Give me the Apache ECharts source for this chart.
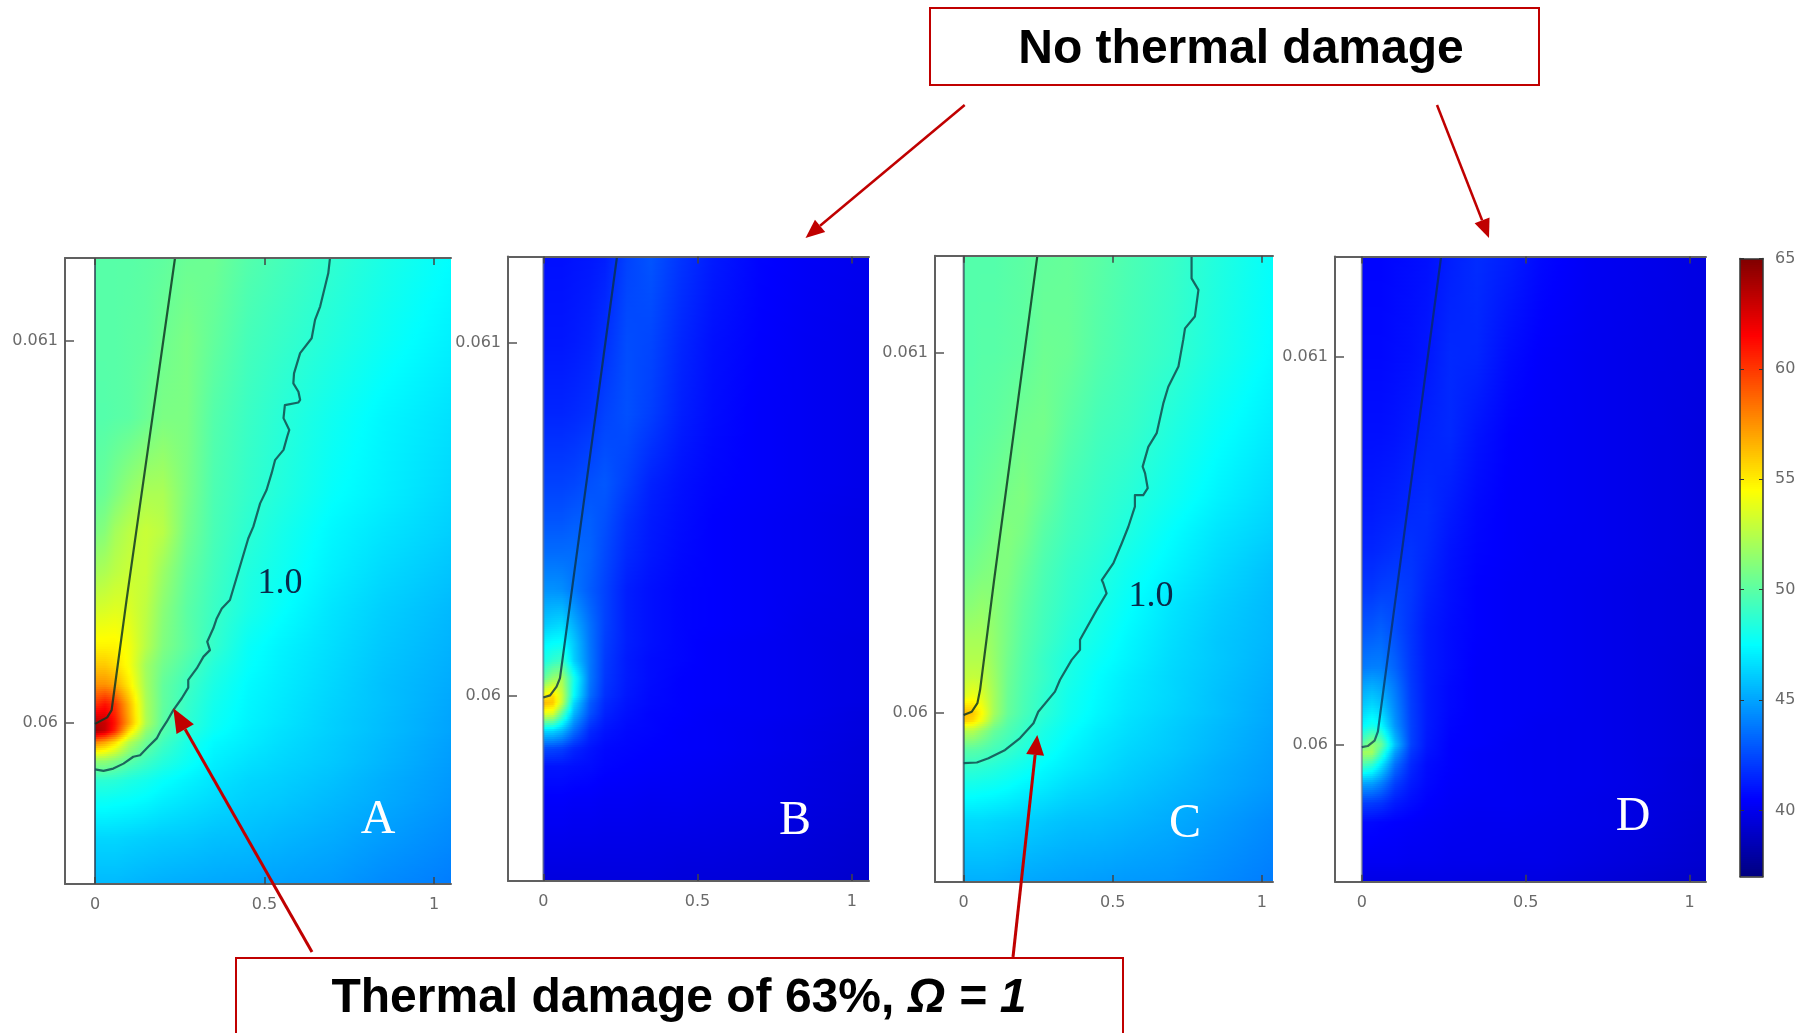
<!DOCTYPE html>
<html>
<head>
<meta charset="utf-8">
<style>html,body{margin:0;padding:0;background:#fff}#c{width:1807px;height:1033px}</style>
<script src="https://cdn.jsdelivr.net/npm/echarts@6/dist/echarts.min.js"></script>
</head>
<body>
<div id="c"></div>
<script>
// ---------- grid nodes (shared interior positions) ----------
const xNodesCore = [0, .03, .06, .1, .15, .2, .27, .35, .45, .55, .7, .85];
const yNodesCore = [.0597, .0598, .05985, .0599, .05995, .05998, .06, .06005, .0601, .06015, .0602, .0603, .0604, .0605, .0606, .0608, .061];

// ---------- temperature fields, bottom row first ----------
const tempA = [
[45.6,45.6,45.6,45.5,45.4,45.3,45.2,45.1,45.0,44.9,44.7,44.3,43.9],
[46.4,46.4,46.4,46.3,46.2,46.1,46.0,45.8,45.7,45.5,45.2,44.8,44.3],
[47.8,47.8,47.7,47.6,47.4,47.1,46.8,46.5,46.2,46.0,45.6,45.2,44.6],
[48.7,48.7,48.6,48.3,48.0,47.6,47.2,46.8,46.4,46.2,45.8,45.3,44.7],
[51.5,51.4,50.9,50.0,49.2,48.5,47.8,47.1,46.7,46.4,46.0,45.5,44.8],
[58,57,55.5,52.5,50.5,49.3,48.2,47.4,47.0,46.6,46.1,45.6,44.9],
[64,63,60.5,55.5,51.5,49.8,48.6,47.7,47.1,46.7,46.2,45.7,45.0],
[63.5,63,61,57,52.3,50,48.8,47.8,47.2,46.8,46.2,45.7,45.0],
[60,61,60,56.5,52.2,50.2,49,48,47.3,46.9,46.3,45.8,45.1],
[57.5,57.5,57,55,52,50.2,49.2,48.2,47.4,47,46.4,45.8,45.2],
[56,56,55.5,54.3,51.9,50.6,49.6,48.5,47.6,47.1,46.5,45.9,45.3],
[54.8,54.8,54.8,54.2,52.5,51,50,48.9,47.7,47.2,46.6,46,45.4],
[53.3,53.4,53.6,53.5,52.7,51.3,50,49.1,48.2,47.6,46.8,46.2,45.6],
[52,52.2,52.6,53,53,51.8,50.3,49.3,48.4,47.9,47.1,46.5,45.9],
[50.9,51.2,52,52.6,53,52.6,50.7,49.5,48.7,48.1,47.3,46.8,46.2],
[50.2,50.4,50.9,51.6,52.2,52.2,50.9,49.6,48.9,48.4,47.6,47.1,46.4],
[49.8,49.8,49.9,50,50.4,50.9,50.9,49.8,49.1,48.6,47.9,47.3,46.7],
[49.9,49.9,49.9,50,50.1,50.5,50.9,50.2,49.4,49,48.4,47.8,47.1],
[49.9,49.9,49.9,49.9,50,50.1,50.4,50.5,49.8,49.4,48.8,48.2,47.5]
];
const tempB = [
[39.6,39.6,39.6,39.6,39.6,39.6,39.6,39.6,39.5,39.5,39.4,39.3,39.1],
[40.4,40.4,40.4,40.3,40.3,40.2,40.2,40.1,40.1,40,39.9,39.7,39.4],
[41,41,41,40.9,40.8,40.6,40.5,40.4,40.3,40.2,40,39.8,39.5],
[42.5,42.4,42.2,41.5,41,40.7,40.6,40.5,40.4,40.3,40.1,39.9,39.5],
[46.5,46.3,45.5,43.5,41.6,41,40.7,40.6,40.4,40.3,40.1,39.9,39.6],
[54,53.5,50,45.5,42.7,41.4,40.9,40.6,40.5,40.3,40.2,40,39.6],
[56.5,56,52.8,46.5,43,41.6,41,40.7,40.5,40.4,40.2,40,39.7],
[54.5,55.5,53,47.5,43.5,41.8,41.1,40.7,40.5,40.4,40.2,40,39.7],
[50,51.5,52,48,43.8,42,41.2,40.8,40.5,40.4,40.2,40,39.7],
[48,48.8,49.2,46.2,43.8,42.1,41.2,40.8,40.6,40.4,40.2,40,39.7],
[47.2,47.5,47.6,46,43.7,42.2,41.3,40.9,40.6,40.4,40.2,40,39.7],
[46,46.3,46.5,45.3,43.6,42.3,41.3,40.9,40.6,40.5,40.3,40,39.8],
[44.5,44.5,44.4,43.8,43,42.3,41.3,40.9,40.6,40.5,40.3,40.1,39.8],
[43.5,43.5,43.5,43.5,43.2,42.5,41.6,41.1,40.7,40.5,40.3,40.1,39.8],
[42.8,42.8,42.8,43,43.1,42.7,41.8,41.2,40.8,40.5,40.3,40.1,39.8],
[42.3,42.3,42.3,42.4,42.7,42.9,42.2,41.4,40.9,40.6,40.4,40.2,39.9],
[41.5,41.5,41.5,41.6,41.8,42.3,42.7,42.2,41.3,40.8,40.4,40.2,39.9],
[41.1,41.1,41.1,41.2,41.4,41.8,42.6,42.4,41.5,40.9,40.5,40.2,39.9],
[40.9,40.9,40.9,41,41.1,41.3,42.3,42.8,41.9,41.2,40.6,40.3,40]
];
const tempC = [
[45.3,45.3,45.3,45.3,45.2,45.1,45,44.9,44.8,44.7,44.6,44.3,43.9],
[46.5,46.5,46.5,46.4,46.3,46.2,46,45.8,45.7,45.5,45.2,44.8,44.3],
[48,48,47.9,47.8,47.6,47.3,47,46.6,46.3,46,45.6,45.2,44.7],
[48.8,48.8,48.7,48.5,48.2,47.9,47.4,47,46.6,46.2,45.8,45.3,44.8],
[50,50,49.8,49.4,49,48.5,47.9,47.3,46.8,46.4,46,45.5,44.9],
[52.5,52.4,51.5,50.3,49.6,49,48.2,47.6,47,46.6,46.1,45.6,45],
[56,55.5,54,51.5,50,49.3,48.5,47.8,47.2,46.7,46.2,45.7,45.1],
[56.5,56,54.5,52,50.3,49.5,48.7,47.9,47.3,46.8,46.3,45.8,45.1],
[53.5,54,53.5,52,50.4,49.6,48.8,48,47.4,46.9,46.4,45.8,45.2],
[52.8,52.9,52.8,51.8,50.5,49.7,49,48.2,47.5,47,46.4,45.9,45.3],
[52.4,52.4,52.4,51.6,50.6,49.8,49,48.3,47.7,47.2,46.5,46,45.4],
[52.1,52.1,52.1,51.5,50.7,49.9,49.2,48.5,47.9,47.3,46.6,46,45.5],
[51.2,51.3,51.5,51.3,50.8,50.1,49.4,48.8,48.2,47.6,46.8,46.2,45.6],
[50.6,50.7,50.9,51.1,51,50.4,49.6,49,48.5,47.9,47.2,46.5,45.8],
[50.2,50.3,50.5,50.8,51.1,50.8,49.9,49.3,48.8,48.3,47.5,46.8,46.2],
[50,50.1,50.3,50.5,50.8,51,50.3,49.5,49,48.6,47.9,47.2,46.5],
[49.9,49.9,50,50.1,50.3,50.6,50.7,50,49.4,49.1,48.4,47.7,47],
[49.8,49.8,49.9,49.9,50,50.1,50.5,50.4,49.8,49.4,48.9,48.2,47.4],
[49.8,49.8,49.8,49.8,49.9,50,50.2,50.3,50,49.6,49.1,48.4,47.6]
];
const tempD = [
[39.8,39.8,39.8,39.8,39.8,39.8,39.8,39.7,39.7,39.7,39.5,39.3,39],
[40.2,40.2,40.2,40.2,40.1,40.1,40,40,39.9,39.9,39.7,39.5,39.2],
[40.7,40.7,40.6,40.5,40.4,40.3,40.2,40.1,40.1,40,39.9,39.7,39.3],
[42.2,42.1,41.9,41.2,40.8,40.5,40.3,40.2,40.2,40.1,39.9,39.7,39.4],
[45,44.8,44,42.2,41.2,40.7,40.4,40.3,40.2,40.1,40,39.8,39.4],
[49.8,49,47,43.6,41.6,40.8,40.5,40.3,40.2,40.1,40,39.8,39.4],
[52,52,49.2,44.8,42,41,40.5,40.3,40.2,40.1,40,39.8,39.5],
[50,51.5,50.5,45.8,42.3,41.1,40.5,40.4,40.2,40.1,40,39.8,39.5],
[47.3,48,47.5,44.6,42.3,41.2,40.6,40.4,40.3,40.1,40,39.8,39.5],
[46,46.5,46,44.2,42.2,41.2,40.7,40.4,40.3,40.2,40,39.8,39.5],
[45,45.3,45,43.8,42.1,41.2,40.7,40.4,40.3,40.2,40,39.8,39.5],
[43.8,44,44,43.2,42,41.2,40.8,40.4,40.3,40.2,40,39.8,39.5],
[42.8,42.9,43.1,42.6,41.9,41.2,40.8,40.5,40.3,40.2,40,39.8,39.6],
[42,42,42.2,42.3,42,41.4,40.9,40.5,40.3,40.2,40,39.8,39.6],
[41.5,41.5,41.6,41.8,41.9,41.6,41,40.6,40.4,40.2,40.1,39.9,39.6],
[41.2,41.2,41.3,41.4,41.6,41.7,41.2,40.7,40.4,40.3,40.1,39.9,39.6],
[40.9,40.9,40.9,41,41.2,41.4,41.6,41,40.5,40.3,40.1,39.9,39.6],
[40.7,40.7,40.7,40.8,40.9,41.1,41.6,41.5,40.8,40.4,40.1,39.9,39.7],
[40.6,40.6,40.6,40.7,40.8,40.9,41.3,41.7,41.3,40.7,40.2,40,39.7]
];

// ---------- needle outlines ----------
const needleA = [[.236,.061217],[.121,.060497],[.093,.060322],[.049,.060034],[.036,.060015],[0,.059998]];
const needleB = [[.239,.061245],[.054,.06005],[.043,.060026],[.022,.060001],[0,.059995]];
const needleC = [[.247,.061271],[.102,.06037],[.055,.060065],[.046,.060028],[.027,.060004],[0,.059995]];
const needleD = [[.242,.061259],[.049,.060034],[.039,.060011],[.018,.059997],[0,.059994]];

// ---------- damage contours (omega = 1) ----------
const contourA = [[0,.059879],[.025,.059875],[.054,.059881],[.084,.059894],[.113,.059912],[.133,.059916],[.157,.059938],[.182,.05996],[.192,.059977],[.211,.060003],[.231,.060034],[.256,.060065],[.275,.060093],[.275,.060113],[.3,.060143],[.32,.060174],[.339,.060191],[.331,.060213],[.349,.060248],[.359,.060274],[.374,.0603],[.398,.060322],[.452,.060483],[.467,.060514],[.487,.060575],[.506,.06061],[.521,.060654],[.531,.060688],[.556,.060715],[.567,.06075],[.573,.060767],[.556,.060798],[.56,.060832],[.6,.060839],[.605,.060846],[.6,.060867],[.585,.060889],[.587,.060915],[.605,.060968],[.639,.061007],[.649,.061055],[.664,.06109],[.688,.061177],[.693,.061216]];
const contourC = [[0,.059861],[.044,.059863],[.083,.059875],[.139,.059898],[.189,.059931],[.234,.059972],[.25,.060004],[.306,.06006],[.323,.060093],[.362,.060148],[.39,.060176],[.39,.060204],[.446,.060287],[.479,.060333],[.468,.060361],[.463,.06037],[.502,.060417],[.53,.060472],[.552,.060518],[.574,.060574],[.574,.060606],[.602,.060606],[.617,.060625],[.608,.060667],[.6,.060685],[.619,.06074],[.647,.060778],[.669,.06086],[.686,.060907],[.72,.060963],[.736,.061037],[.742,.061069],[.775,.061102],[.787,.061176],[.764,.061208],[.764,.061268]];

// ---------- tick labels ----------
const xTicks = [0, 0.5, 1];
const yTicks = [0.06, 0.061];
const colorTicks = [40, 45, 50, 55, 60, 65];
const colorScale = [37, 38, 39, 40, 41, 42, 43, 44, 45, 46, 47, 48, 49, 50, 51, 52, 53, 54, 55, 56, 57, 58, 59, 60, 61, 62, 63, 64, 65];

// ---------- panels ----------
const panels = [
  {name:'A', temp:tempA, needle:needleA, contour:contourA, xr:[-.0885,1.05], yr:[.059579,.061217], box:[65,258,386,626], needleC:'rgba(15,55,35,.85)', wallC:'rgba(40,60,80,.75)'},
  {name:'B', temp:tempB, needle:needleB, contour:null, xr:[-.1145,1.056], yr:[.059475,.061245], box:[508,256.5,361,624.5], needleC:'rgba(10,50,70,.8)', wallC:'rgba(110,120,140,.7)'},
  {name:'C', temp:tempC, needle:needleC, contour:contourC, xr:[-.0962,1.037], yr:[.059531,.061271], box:[935,255.7,338,626.3], needleC:'rgba(15,55,35,.85)', wallC:'rgba(40,60,80,.75)'},
  {name:'D', temp:tempD, needle:needleD, contour:null, xr:[-.0818,1.05], yr:[.059647,.061259], box:[1335,256.5,371,625.3], needleC:'rgba(10,45,80,.7)', wallC:'rgba(110,120,140,.7)'}
];

// jet colour map, 37..65 as the colour bar shows
function jet(v){
  const t = Math.min(1, Math.max(0, (v-37)/28));
  const c = k => Math.round(255*Math.min(1, Math.max(0, 1.5-Math.abs(4*t-k))));
  return 'rgb('+c(3)+','+c(2)+','+c(1)+')';
}

// one data item per field cell; the library's scale places it, shading runs across the cell
function renderCell(params, api){
  const x0=api.value(0), x1=api.value(1), y0=api.value(2), y1=api.value(3);
  const v00=api.value(4), v10=api.value(5), v01=api.value(6), v11=api.value(7);
  const pa=api.coord([x0,y0]), pb=api.coord([x1,y1]);
  const L=Math.round(pa[0]), R=Math.round(pb[0]), B=Math.round(pa[1]), T=Math.round(pb[1]);
  const children=[];
  const stops=Math.max(2,Math.min(12,Math.ceil((R-L)/4)));
  for(let yy=T;yy<B;yy+=2){
    const hh=Math.min(2,B-yy);
    const f=Math.min(1,Math.max(0,(pa[1]-(yy+hh/2))/(pa[1]-pb[1])));
    const l=v00+(v01-v00)*f, r=v10+(v11-v10)*f;
    const colorStops=[];
    for(let k=0;k<=stops;k++){
      colorStops.push({offset:k/stops,color:jet(l+(r-l)*k/stops)});
    }
    children.push({type:'rect',
      shape:{x:L,y:yy,width:R-L,height:hh},
      style:{fill:{type:'linear',x:0,y:0,x2:1,y2:0,colorStops}},silent:true});
  }
  return {type:'group',children};
}

function cells(xs,ys,field){
  const out=[];
  for(let j=0;j<ys.length-1;j++) for(let i=0;i<xs.length-1;i++){
    out.push([xs[i],xs[i+1],ys[j],ys[j+1],field[j][i],field[j][i+1],field[j+1][i],field[j+1][i+1]]);
  }
  return out;
}

const grid=[],xAxis=[],yAxis=[],series=[];
const labelStyle={color:'#6a6a6a',fontFamily:'DejaVu Sans',fontSize:16};
const axisLn={lineStyle:{color:'#606060',width:2}};

panels.forEach((p,i)=>{
  grid.push({left:p.box[0],top:p.box[1],width:p.box[2],height:p.box[3]});
  const xs=[...xNodesCore,p.xr[1]], ys=[p.yr[0],...yNodesCore,p.yr[1]];
  xAxis.push({gridIndex:i,type:'value',min:p.xr[0],max:p.xr[1],position:'bottom',z:5,splitLine:{show:false},
    axisLine:{show:true,onZero:false,...axisLn},
    axisTick:{show:true,inside:true,length:7,customValues:xTicks,lineStyle:{color:'#444',width:1.5}},
    axisLabel:{show:true,customValues:xTicks,margin:13,...labelStyle}});
  xAxis.push({gridIndex:i,type:'value',min:p.xr[0],max:p.xr[1],position:'top',z:5,splitLine:{show:false},
    axisLine:{show:true,onZero:false,...axisLn},
    axisTick:{show:true,inside:true,length:7,customValues:xTicks,lineStyle:{color:'#444',width:1.5}},
    axisLabel:{show:false}});
  yAxis.push({gridIndex:i,type:'value',min:p.yr[0],max:p.yr[1],position:'left',z:5,splitLine:{show:false},
    axisLine:{show:true,onZero:false,...axisLn},
    axisTick:{show:true,inside:true,length:9,customValues:yTicks,lineStyle:{color:'#555',width:1.5}},
    axisLabel:{show:true,customValues:yTicks,margin:7,...labelStyle}});
  const xi=i*2, yi=i;
  series.push({type:'custom',name:'Temperature '+p.name,xAxisIndex:xi,yAxisIndex:yi,clip:true,silent:true,animation:false,z:1,
    renderItem:renderCell,data:cells(xs,ys,p.temp)});
  series.push({type:'line',name:'Wall '+p.name,xAxisIndex:xi,yAxisIndex:yi,silent:true,animation:false,showSymbol:false,z:3,
    lineStyle:{color:p.wallC,width:2},data:[[0,p.yr[0]],[0,p.yr[1]]]});
  series.push({type:'line',name:'Needle '+p.name,xAxisIndex:xi,yAxisIndex:yi,silent:true,animation:false,showSymbol:false,z:3,
    lineStyle:{color:p.needleC,width:2.2,join:'round'},data:p.needle});
  if(p.contour){
    series.push({type:'line',name:'Damage contour '+p.name,xAxisIndex:xi,yAxisIndex:yi,silent:true,animation:false,showSymbol:false,z:3,
      lineStyle:{color:'rgba(20,85,85,.9)',width:2.2,join:'round'},data:p.contour});
  }
});

// colour bar
const cbi=panels.length;
grid.push({left:1740,top:258.6,width:23,height:618});
xAxis.push({gridIndex:cbi,type:'value',min:0,max:1,position:'bottom',z:5,splitLine:{show:false},axisTick:{show:false},axisLabel:{show:false},
  axisLine:{show:true,onZero:false,lineStyle:{color:'#333',width:1.5}}});
xAxis.push({gridIndex:cbi,type:'value',min:0,max:1,position:'top',z:5,splitLine:{show:false},axisTick:{show:false},axisLabel:{show:false},
  axisLine:{show:true,onZero:false,lineStyle:{color:'#333',width:1.5}}});
yAxis.push({gridIndex:cbi,type:'value',min:37,max:65,position:'right',z:5,splitLine:{show:false},
  axisLine:{show:true,onZero:false,lineStyle:{color:'#333',width:1.5}},
  axisTick:{show:true,inside:true,length:4,customValues:colorTicks,lineStyle:{color:'#333'}},
  axisLabel:{show:true,customValues:colorTicks,margin:12,...labelStyle}});
yAxis.push({gridIndex:cbi,type:'value',min:37,max:65,position:'left',z:5,splitLine:{show:false},
  axisLine:{show:true,onZero:false,lineStyle:{color:'#333',width:1.5}},
  axisTick:{show:true,inside:true,length:4,customValues:colorTicks,lineStyle:{color:'#333'}},
  axisLabel:{show:false}});
const cbField=colorScale.map(v=>[v,v]);
series.push({type:'custom',name:'Colour scale',xAxisIndex:cbi*2,yAxisIndex:cbi,clip:true,silent:true,animation:false,z:1,
  renderItem:renderCell,data:cells([0,1],colorScale,cbField)});

// ---------- annotations ----------
const RED='#c00000';
function arrow(tail,tip,lw,len,half){
  const dx=tip[0]-tail[0],dy=tip[1]-tail[1],d=Math.hypot(dx,dy),ux=dx/d,uy=dy/d;
  const bx=tip[0]-ux*len,by=tip[1]-uy*len;
  return [
    {type:'line',z:20,silent:true,shape:{x1:tail[0],y1:tail[1],x2:bx,y2:by},style:{stroke:RED,lineWidth:lw}},
    {type:'polygon',z:20,silent:true,shape:{points:[tip,[bx-uy*half,by+ux*half],[bx+uy*half,by-ux*half]]},style:{fill:RED}}
  ];
}
function serif(t,x,y,size,color){
  return {type:'text',z:20,silent:true,x,y,style:{text:t,fill:color,font:'normal '+size+'px "Liberation Serif", serif',textAlign:'center',textVerticalAlign:'middle'}};
}
const graphic=[
  {type:'rect',z:19,silent:true,shape:{x:930,y:8,width:609,height:77},style:{fill:'#fff',stroke:RED,lineWidth:2}},
  {type:'rect',z:19,silent:true,shape:{x:236,y:958,width:887,height:90},style:{fill:'#fff',stroke:RED,lineWidth:2}},
  {type:'text',z:20,silent:true,x:1241,y:50,style:{text:'No thermal damage',fill:'#000',font:'bold 48px "Liberation Sans", Arial, sans-serif',textAlign:'center',textVerticalAlign:'middle'}},
  {type:'text',z:20,silent:true,x:679,y:999,style:{
    text:'{a|Thermal damage of 63%, }{b|Ω = 1}',textAlign:'center',textVerticalAlign:'middle',
    rich:{a:{fill:'#000',font:'bold 48px "Liberation Sans", Arial, sans-serif'},b:{fill:'#000',font:'italic bold 48px "Liberation Sans", Arial, sans-serif'}}}},
  ...arrow([964.7,105],[805.5,238],2.5,19,8),
  ...arrow([1437,105],[1489,238],2.5,19,8),
  ...arrow([312,952],[173.3,708.3],3,24,10),
  ...arrow([1013,957],[1037.3,735],3,20,9),
  serif('A',378,820,48,'#fff'),
  serif('B',795,821,48,'#fff'),
  serif('C',1185,824,48,'#fff'),
  serif('D',1633,817,48,'#fff'),
  serif('1.0',280,584,36,'#0a2a4a'),
  serif('1.0',1151,597,36,'#0a2a4a')
];

const chart=echarts.init(document.getElementById('c'),null,{renderer:'canvas'});
chart.setOption({backgroundColor:'#fff',animation:false,grid,xAxis,yAxis,series,graphic});
</script>
</body>
</html>
